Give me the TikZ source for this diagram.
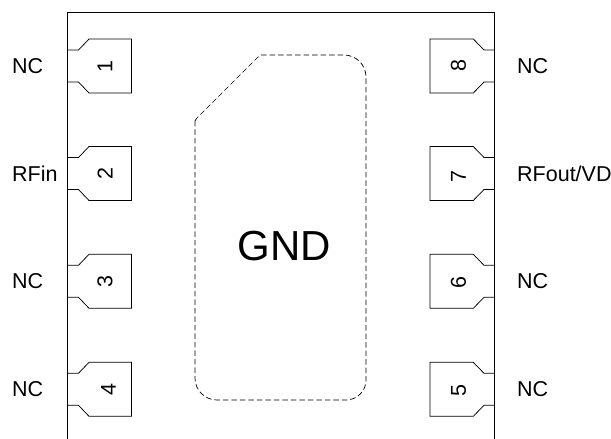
\documentclass[tikz,border=0pt]{standalone}
\usepackage{fontspec}
\setmainfont{Liberation Sans}
\tikzset{
  x=1pt,y=-1pt,
  outline/.style={draw=black,line width=0.9pt},
  padline/.style={draw=black,line width=0.75pt,line join=miter},
  gndline/.style={draw=black,line width=0.7pt,dash pattern=on 5.5pt off 3pt},
  lbl/.style={font=\fontsize{21.5}{24}\selectfont,inner sep=0pt,text=black},
  pin/.style={font=\fontsize{21.5}{24}\selectfont,inner sep=0pt,text=black,rotate=90},
  gnd/.style={font=\fontsize{42}{46}\selectfont,inner sep=0pt,text=black}
}
\newcommand{\leftpad}[5]{%
  \draw[padline] (67.5,#1+11) -- (78.5,#1+11) -- (89,#1) -- (131.5,#1) -- (131.5,#1+54) -- (89,#1+54) -- (78.5,#1+43) -- (67.5,#1+43);
  \node[pin] (pin#2) at (#4,#1+#5) {#2};
  \node[lbl,anchor=west] (name#2) at (12,#1+27) {#3};
}
\newcommand{\rightpad}[5]{%
  \draw[padline] (494.5,#1+11) -- (484,#1+11) -- (473.3,#1) -- (430,#1) -- (430,#1+54) -- (473.3,#1+54) -- (484,#1+43) -- (494.5,#1+43);
  \node[pin] (pin#2) at (#4,#1+#5) {#2};
  \node[lbl,anchor=west] (name#2) at (517,#1+27) {#3};
}
\begin{document}
\begin{tikzpicture}
\useasboundingbox (0,0) rectangle (611,439);
\draw[outline] (67.5,439) -- (67.5,12) -- (494.5,12) -- (494.5,439);
\leftpad{39}{1}{NC}{105}{27.5}
\leftpad{146.5}{2}{RFin}{105}{27.5}
\leftpad{254.3}{3}{NC}{105}{27.5}
\leftpad{362.3}{4}{NC}{108.5}{27.5}
\rightpad{39}{8}{NC}{458.5}{27}
\rightpad{146.5}{7}{RFout/VD}{458.5}{30}
\rightpad{254.3}{6}{NC}{458.5}{28}
\rightpad{362.3}{5}{NC}{458.5}{28}
\draw[gndline] (195,121) -- (196.5,118.5) -- (258,57) -- (261,55) -- (344,55) arc[start angle=-90,end angle=0,radius=22] -- (366,380) arc[start angle=0,end angle=90,radius=20] -- (217,400) arc[start angle=90,end angle=180,radius=22] -- cycle;
\node[gnd] (gnd) at (284,246) {GND};
\end{tikzpicture}
\end{document}
